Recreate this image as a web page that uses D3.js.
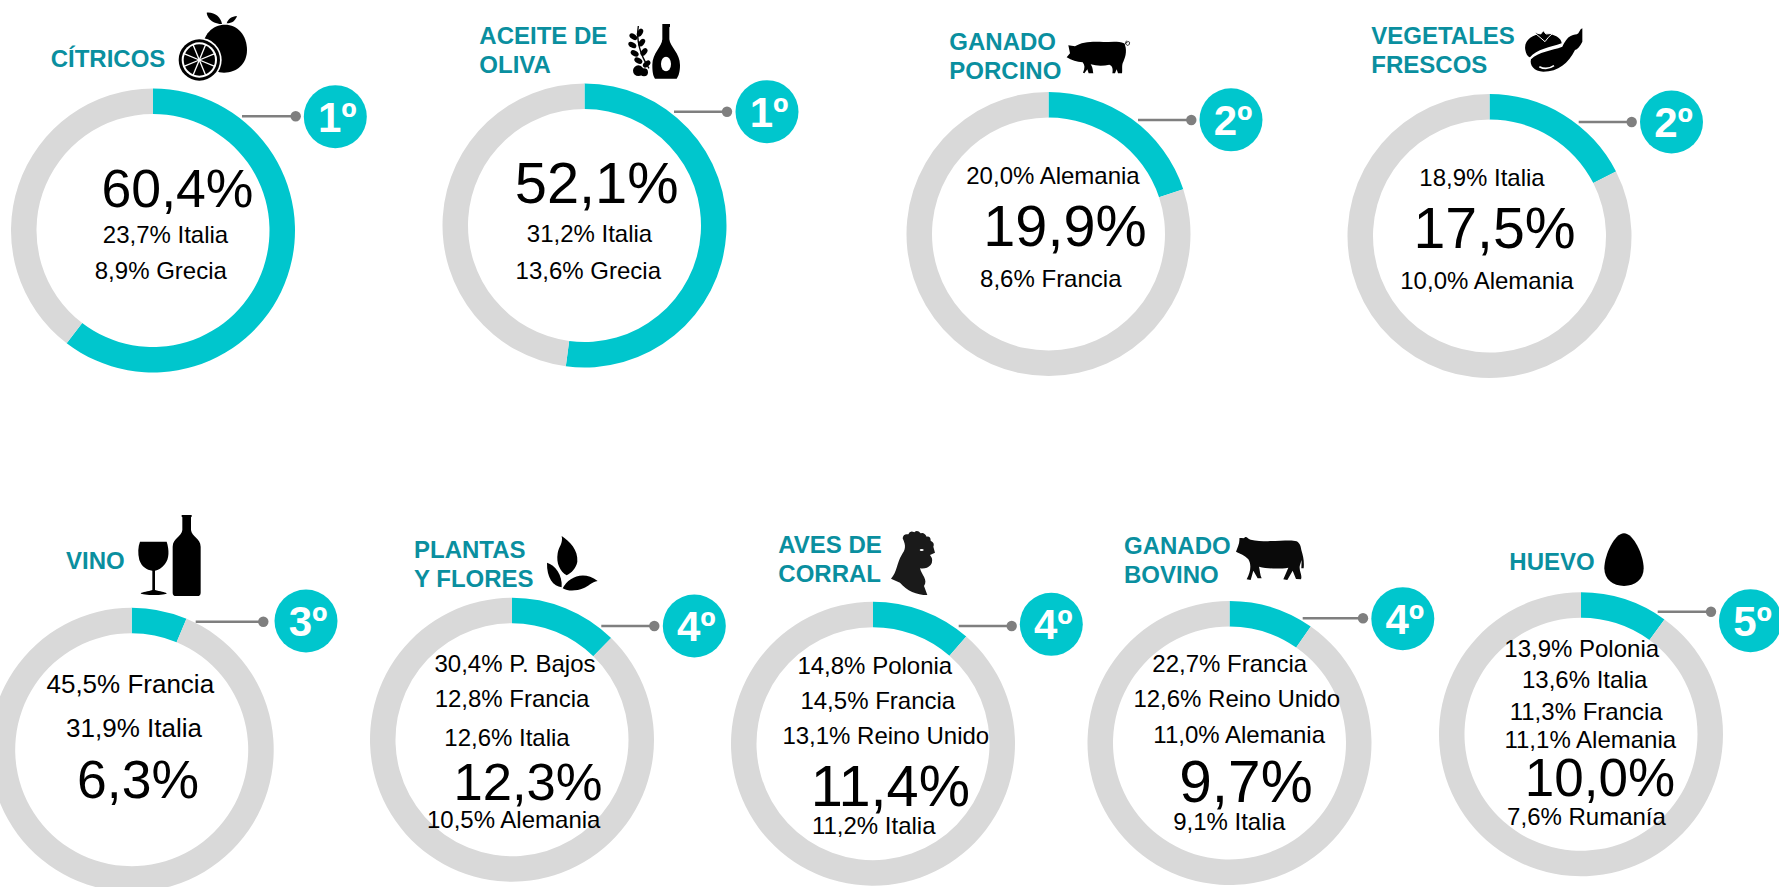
<!DOCTYPE html>
<html lang="es">
<head>
<meta charset="utf-8">
<title>Ranking UE</title>
<script src="https://cdn.jsdelivr.net/npm/d3@7"></script>
<style>
  html, body { margin: 0; padding: 0; background: #fff; overflow: hidden; }
  svg { display: block; font-family: "Liberation Sans", Arial, sans-serif; }
</style>
</head>
<body>
<div id="chart"></div>
<script>
// values
var titles = [
  ["CÍTRICOS"], ["ACEITE DE", "OLIVA"], ["GANADO", "PORCINO"], ["VEGETALES", "FRESCOS"],
  ["VINO"], ["PLANTAS", "Y FLORES"], ["AVES DE", "CORRAL"], ["GANADO", "BOVINO"], ["HUEVO"]
];
var spainShare = [60.4, 52.1, 19.9, 17.5, 6.3, 12.3, 11.4, 9.7, 10.0];
var ranks = [1, 1, 2, 2, 3, 4, 4, 4, 5];
var rivalNames = [
  ["Italia", "Grecia"],
  ["Italia", "Grecia"],
  ["Alemania", "Francia"],
  ["Italia", "Alemania"],
  ["Francia", "Italia"],
  ["P. Bajos", "Francia", "Italia", "Alemania"],
  ["Polonia", "Francia", "Reino Unido", "Italia"],
  ["Francia", "Reino Unido", "Alemania", "Italia"],
  ["Polonia", "Italia", "Francia", "Alemania", "Rumanía"]
];
var rivalValues = [
  [23.7, 8.9],
  [31.2, 13.6],
  [20.0, 8.6],
  [18.9, 10.0],
  [45.5, 31.9],
  [30.4, 12.8, 12.6, 10.5],
  [14.8, 14.5, 13.1, 11.2],
  [22.7, 12.6, 11.0, 9.1],
  [13.9, 13.6, 11.3, 11.1, 7.6]
];

// layout, one row per ring
var ringCentres = [[153, 230.5], [584.5, 225.5], [1048.5, 234], [1489.5, 236], [131.7, 749.7], [512, 739.7], [873, 743.7], [1229.5, 743], [1581, 734.3]];
var badgeCentres = [[335.3, 116.7], [767, 111.7], [1231, 119.8], [1671.5, 122], [306, 621], [694.3, 626], [1051.3, 624.3], [1402.8, 618.7], [1750.5, 620.7]];
var leaders = [[242, 295.7, 116.3], [674, 727, 111.7], [1138, 1191.3, 120], [1578.7, 1631.7, 122], [195.7, 263.3, 621.7], [601.3, 654.3, 626], [958.7, 1011.7, 626], [1302.7, 1363, 618.3], [1657.7, 1711, 611.7]];
var titleAnchors = [[50.7, 67], [479.3, 44.3], [949.3, 50], [1371.3, 44.3], [66, 569.3], [414, 557.7], [778.3, 553.3], [1124, 554.3], [1509.3, 569.8]];
var bigLabels = [[177.5, 207, 53.6], [596.7, 203.3, 57.8], [1065, 246, 57.6], [1494.5, 248.3, 57.2], [138, 797.7, 53.5], [528, 800, 52.6], [890.3, 805.7, 57.7], [1246, 801.7, 58.5], [1600, 796, 53]];
var rivalSizes = [24, 24, 24, 24, 26, 24, 24, 24, 24];
var rivalLabels = [
  [[165.5, 243], [160.8, 279]],
  [[589.5, 241.7], [588.3, 279.3]],
  [[1053, 184], [1050.8, 286.7]],
  [[1482, 186], [1487, 288.7]],
  [[130.3, 692.7], [134, 736.7]],
  [[515, 672.3], [512, 706.7], [507, 745.7], [513.7, 828]],
  [[874.8, 674.3], [877.8, 709], [885.8, 743.7], [873.7, 834]],
  [[1229.7, 672.3], [1236.8, 706.7], [1239.2, 742.7], [1229.2, 830]],
  [[1581.7, 656.7], [1584.7, 688.3], [1586.2, 720], [1590.3, 747.7], [1586.5, 825]]
];
var iconOrigins = [[0, 0], [420, 0], [900, 0], [1330, 0], [0, 500], [370, 500], [720, 500], [1080, 500], [1430, 500]];

var outerRadius = 142, innerRadius = 116.5, badgeRadius = 31.5;
var teal = "#00c6cd", grey = "#d9d9d9", titleColor = "#0a8f9f", leaderColor = "#7f7f7f";

var esLocale = d3.formatLocale({decimal: ",", thousands: ".", grouping: [3], currency: ["", "€"]});
var pct = esLocale.format(".1f");

var svg = d3.select("#chart").append("svg").attr("width", 1779).attr("height", 887);

var pie = d3.pie().sort(null).value(function(d) { return d; });
var arc = d3.arc().innerRadius(innerRadius).outerRadius(outerRadius);

var cards = svg.selectAll("g.card")
  .data(spainShare)
  .enter()
  .append("g")
  .attr("class", "card");

// rings
cards.append("g")
  .attr("transform", function(d, i) { return "translate(" + ringCentres[i][0] + "," + ringCentres[i][1] + ")"; })
  .selectAll("path")
  .data(function(d) { return pie([d, 100 - d]); })
  .enter()
  .append("path")
  .attr("d", arc)
  .attr("fill", function(d, i) { return i == 0 ? teal : grey; });

// leader line and dot
cards.append("line")
  .attr("x1", function(d, i) { return leaders[i][0]; })
  .attr("x2", function(d, i) { return leaders[i][1]; })
  .attr("y1", function(d, i) { return leaders[i][2]; })
  .attr("y2", function(d, i) { return leaders[i][2]; })
  .attr("stroke", leaderColor)
  .attr("stroke-width", 2.5);
cards.append("circle")
  .attr("cx", function(d, i) { return leaders[i][1]; })
  .attr("cy", function(d, i) { return leaders[i][2]; })
  .attr("r", 5.2)
  .attr("fill", leaderColor);

// rank badge
cards.append("circle")
  .attr("cx", function(d, i) { return badgeCentres[i][0]; })
  .attr("cy", function(d, i) { return badgeCentres[i][1]; })
  .attr("r", badgeRadius)
  .attr("fill", teal);
cards.append("text")
  .attr("x", function(d, i) { return badgeCentres[i][0] + 2; })
  .attr("y", function(d, i) { return badgeCentres[i][1] + 15; })
  .attr("text-anchor", "middle")
  .attr("font-size", 42)
  .attr("font-weight", "bold")
  .attr("fill", "#fff")
  .text(function(d, i) { return ranks[i] + "º"; });

// product title
cards.append("text")
  .attr("y", function(d, i) { return titleAnchors[i][1]; })
  .attr("font-size", 24)
  .attr("font-weight", "bold")
  .attr("fill", titleColor)
  .selectAll("tspan")
  .data(function(d, i) { return titles[i].map(function(t) { return {t: t, x: titleAnchors[i][0]}; }); })
  .enter()
  .append("tspan")
  .attr("x", function(d) { return d.x; })
  .attr("dy", function(d, j) { return j == 0 ? 0 : 29; })
  .text(function(d) { return d.t; });

// spain share, big number
cards.append("text")
  .attr("x", function(d, i) { return bigLabels[i][0]; })
  .attr("y", function(d, i) { return bigLabels[i][1]; })
  .attr("font-size", function(d, i) { return bigLabels[i][2]; })
  .attr("text-anchor", "middle")
  .attr("fill", "#000")
  .text(function(d) { return pct(d) + "%"; });

// other countries
cards.selectAll("text.rival")
  .data(function(d, i) {
    return rivalValues[i].map(function(v, j) {
      return {label: pct(v) + "% " + rivalNames[i][j], pos: rivalLabels[i][j], size: rivalSizes[i]};
    });
  })
  .enter()
  .append("text")
  .attr("class", "rival")
  .attr("x", function(d) { return d.pos[0]; })
  .attr("y", function(d) { return d.pos[1]; })
  .attr("font-size", function(d) { return d.size; })
  .attr("text-anchor", "middle")
  .attr("fill", "#000")
  .text(function(d) { return d.label; });

// icons, paths traced at 3x so they sit in a scale(1/3) group
var icons = cards.append("g")
  .attr("transform", function(d, i) { return "translate(" + iconOrigins[i][0] + "," + iconOrigins[i][1] + ") scale(" + (1 / 3) + ")"; });

function blob(i, path, fill) {
  return d3.select(icons.nodes()[i]).append("path").attr("d", path).attr("fill", fill || "#000");
}
function dot(i, x, y, r, fill) {
  return d3.select(icons.nodes()[i]).append("circle").attr("cx", x).attr("cy", y).attr("r", r).attr("fill", fill);
}

// citrus
blob(0, "M675,74 C712,74 741,105 741,150 C741,192 710,218 672,218 C635,218 608,185 608,146 C608,105 637,74 675,74Z");
blob(0, "M620,38 C645,36 662,52 666,72 C645,72 622,60 620,38Z");
blob(0, "M680,70 C685,55 695,50 711,48 C706,62 697,70 680,70Z");
dot(0, 598, 180, 67, "#fff");
dot(0, 598, 180, 62, "#000");
dot(0, 598, 180, 53, "#fff");
dot(0, 598, 180, 47, "#000");
d3.range(8).forEach(function(k) {
  var a = (k + 0.5) * Math.PI / 4;
  d3.select(icons.nodes()[0]).append("line")
    .attr("x1", 598).attr("y1", 180)
    .attr("x2", 598 + 50 * Math.cos(a)).attr("y2", 180 + 50 * Math.sin(a))
    .attr("stroke", "#fff").attr("stroke-width", 4);
});

// olive oil
blob(1, "M727,72 L750,72 L750,80 L748,82 L748,118 C750,140 780,160 780,195 C780,215 776,228 770,236 L705,236 C699,228 697,215 697,195 C697,160 726,140 727,118 L727,82 L727,80Z");
d3.select(icons.nodes()[1]).append("ellipse").attr("cx", 738).attr("cy", 192).attr("rx", 15).attr("ry", 22).attr("fill", "#fff");
blob(1, "M655,78 Q645,140 687,205", "none").attr("stroke", "#000").attr("stroke-width", 4);
[[640, 110, 35], [637, 135, 30], [644, 160, 30], [655, 182, 30], [660, 98, -60], [665, 128, -50], [672, 156, -50], [680, 192, -40]].forEach(function(l) {
  d3.select(icons.nodes()[1]).append("ellipse")
    .attr("rx", 13).attr("ry", 8)
    .attr("transform", "translate(" + l[0] + "," + l[1] + ") rotate(" + l[2] + ")")
    .attr("fill", "#000");
});
dot(1, 655, 212, 16, "#000");
dot(1, 672, 217, 12, "#000");

// pig
blob(2, "M500,172 L510,160 L505,136 L525,139 C545,125 580,124 610,126 C630,126 655,122 672,130 C682,145 678,170 670,185 C664,195 668,210 666,220 L654,220 L650,208 L645,220 L637,220 C640,205 636,197 628,194 C610,198 590,198 572,193 C580,205 578,215 580,220 L566,220 L562,208 L553,220 L549,218 C555,205 555,195 548,187 C530,187 515,180 500,172Z");
blob(2, "M672,135 C680,122 692,122 688,132 C684,142 672,132 680,122", "none").attr("stroke", "#000").attr("stroke-width", 2.5);

// tomato and aubergine
blob(3, "M586,150 C580,120 610,100 640,102 C665,98 695,112 695,130 C660,142 620,148 600,172 C592,170 588,160 586,150Z");
blob(3, "M612,97 L632,102 L640,92 L648,102 L668,100 L655,112 L645,125 L630,112Z").attr("stroke", "#fff").attr("stroke-width", 3);
blob(3, "M757,85 L757,125 C750,140 742,148 735,150 C715,190 685,215 640,215 C612,215 598,195 603,178 C625,155 665,152 697,140 C705,125 712,112 722,108 C732,103 740,105 745,100 L752,88Z");
blob(3, "M628,200 Q650,212 672,197", "none").attr("stroke", "#fff").attr("stroke-width", 5);

// wine
blob(4, "M420,125 L500,125 C508,150 508,175 495,192 C485,205 475,210 465,212 L465,270 C480,274 495,276 500,280 C500,287 425,287 422,280 C427,276 445,274 457,270 L457,212 C440,210 425,200 418,180 C413,160 414,140 420,125Z");
blob(4, "M545,45 L575,45 L575,50 L573,52 L573,90 C575,110 602,115 602,140 L602,278 Q602,288 592,288 L528,288 Q518,288 518,278 L518,140 C518,115 545,110 547,90 L547,52 L545,50Z");

// leaves
blob(5, "M575,108 C600,125 625,150 622,185 C618,205 605,218 590,226 C570,215 558,190 563,160 C566,140 580,130 575,108Z");
blob(5, "M531,188 C555,195 578,225 575,262 C550,258 530,235 531,188Z");
blob(5, "M578,265 C595,232 640,210 683,243 C665,245 655,260 640,265 C620,273 595,275 578,265Z");

// rooster
blob(6, "M548,115 Q550,100 565,103 Q570,90 583,97 Q592,88 602,100 Q612,95 620,110 Q632,108 632,122 Q645,128 640,140 L645,158 L630,165 Q642,180 632,195 Q620,208 600,205 C605,225 625,240 612,258 L622,285 C590,285 560,272 540,248 L513,236 C532,215 530,190 545,165 C555,150 560,140 548,115Z", "#1a1a1a");
d3.select(icons.nodes()[6]).append("ellipse").attr("cx", 605).attr("cy", 150).attr("rx", 6).attr("ry", 3).attr("fill", "#fff");

// cow
blob(7, "M468,155 C472,142 480,130 478,115 C485,112 490,118 495,112 C500,108 502,116 512,119 C555,128 610,120 640,122 C655,122 662,132 664,150 C670,170 673,185 671,205 L664,205 L665,180 L660,195 C655,210 668,225 663,238 L648,237 L638,212 L622,240 L610,238 L625,203 C600,207 565,207 537,200 C540,212 540,225 545,235 L533,235 L520,212 L512,240 L500,238 C512,215 515,195 505,178 C495,165 480,162 468,155Z", "#0a0a0a");

// egg
blob(8, "M582,100 C610,100 641,165 641,205 C641,238 615,258 582,258 C549,258 523,238 523,205 C523,165 554,100 582,100Z");
</script>
</body>
</html>
